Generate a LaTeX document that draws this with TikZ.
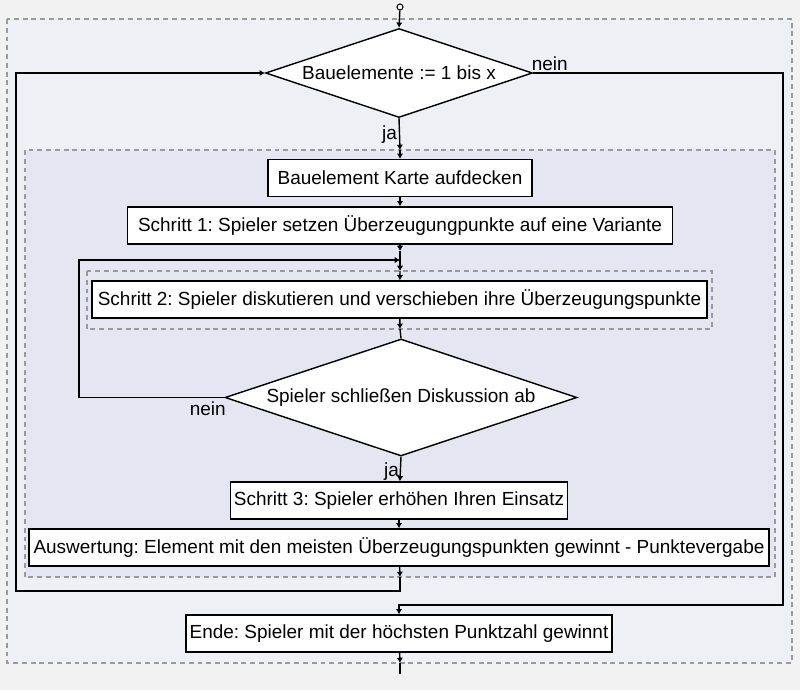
\documentclass[tikz,border=0pt]{standalone}
\usepackage{fontspec}
\setmainfont{Liberation Sans}
\usetikzlibrary{shapes.geometric,arrows.meta}
\definecolor{pagegray}{HTML}{F2F2F2}
\definecolor{outerfill}{HTML}{EFEFF6}
\definecolor{innerfill}{HTML}{E6E6F2}
\definecolor{dashgray}{HTML}{9A9A9A}
\frenchspacing
\tikzset{
    stepbox/.style = {
        draw,
        fill=white,
        line width=0.8pt,
        minimum height=0.74cm,
        inner sep=2pt,
        font=\fontsize{10.8}{13}\selectfont
    },
    decision/.style = {
        draw,
        diamond,
        fill=white,
        line width=0.8pt,
        inner sep=0pt,
        aspect=3,
        font=\fontsize{10.8}{13}\selectfont
    },
    flow/.style = {
        line width=0.8pt,
        -{Latex[length=3pt,width=3.6pt]}
    },
    plain/.style = {
        line width=0.8pt
    },
    group/.style = {
        draw=dashgray,
        line width=0.6pt,
        dash pattern=on 2.8pt off 2.2pt
    },
    answer/.style = {
        inner sep=1pt,
        font=\fontsize{10.8}{13}\selectfont
    }
}

\begin{document}
\begin{tikzpicture}[x=0.02cm, y=-0.02cm]
    % canvas and groups
    \fill[pagegray] (0,0) rectangle (800,690);
    \useasboundingbox (0,0) rectangle (800,690);
    \draw[group, fill=outerfill] (7,19) rectangle (792,663);
    \draw[group, fill=innerfill] (25,150) rectangle (775,577);
    \draw[group, fill=innerfill] (87,271) rectangle (712,329);

    % steps
    \node[draw, circle, fill=white, minimum size=0.12cm, inner sep=0pt, line width=0.6pt] (start) at (400,7) {};
    \node[decision, minimum width=5.34cm, minimum height=1.78cm] (loop) at (399,73) {Bauelemente := 1 bis x};
    \node[stepbox, minimum width=5.28cm] (karte) at (400,178) {Bauelement Karte aufdecken};
    \node[stepbox, minimum width=10.9cm] (schritt1) at (400,225.5) {Schritt 1: Spieler setzen Überzeugungpunkte auf eine Variante};
    \node[stepbox, minimum width=12.3cm] (schritt2) at (399.5,299.5) {Schritt 2: Spieler diskutieren und verschieben ihre Überzeugungspunkte};
    \node[decision, minimum width=7.04cm, minimum height=2.34cm] (check) at (401,397.5) {Spieler schließen Diskussion ab};
    \node[stepbox, minimum width=6.72cm] (schritt3) at (399,500.5) {Schritt 3: Spieler erhöhen Ihren Einsatz};
    \node[stepbox, minimum width=14.8cm] (auswertung) at (399,547.5) {Auswertung: Element mit den meisten Überzeugungspunkten gewinnt - Punktevergabe};
    \node[stepbox, minimum width=8.52cm] (ende) at (399,633.5) {Ende: Spieler mit der höchsten Punktzahl gewinnt};

    % junctions
    \coordinate (innerIn) at (400,150);
    \coordinate (j0) at (400,251);
    \coordinate (j1) at (400,260);
    \coordinate (groupIn) at (400,271);
    \coordinate (groupOut) at (400,329);
    \coordinate (backL) at (79,260);
    \coordinate (innerOut) at (400,577);
    \coordinate (cornerBL) at (16,591);
    \coordinate (cornerR) at (783,605);
    \coordinate (outerOut) at (400,663);
    \coordinate (exit) at (400,674);

    % connectors
    \draw[flow] (start) -- (loop.north);
    \draw[flow] (loop.south) -- (innerIn);
    \draw[flow] (innerIn) -- (karte);
    \draw[flow] (karte) -- (schritt1);
    \draw[flow] (schritt1) -- (j0);
    \draw[plain] (j0) -- (j1);
    \draw[flow] (j1) -- (groupIn);
    \draw[flow] (groupIn) -- (schritt2);
    \draw[flow] (schritt2) -- (groupOut);
    \draw[plain] (groupOut) -- (check.north);
    \draw[flow] (check.west) -| (backL) -- (j1);
    \draw[flow] (check.south) -- (schritt3);
    \draw[flow] (schritt3) -- (auswertung);
    \draw[flow] (auswertung) -- (innerOut);
    \draw[flow] (innerOut) |- (cornerBL) |- (loop.west);
    \draw[flow] (loop.east) -| (cornerR) -| (ende.north);
    \draw[flow] (ende) -- (outerOut);
    \draw[plain] (outerOut) -- (exit);

    % answers
    \node[answer, anchor=south west] (neinA) at ([xshift=-2pt]loop.east) {nein};
    \node[answer, anchor=north east] (jaA) at ([yshift=-3pt]loop.south) {ja};
    \node[answer, anchor=north east] (neinB) at ([xshift=2pt,yshift=-1pt]check.west) {nein};
    \node[answer, anchor=north east] (jaB) at ([yshift=-2pt]check.south) {ja};
\end{tikzpicture}
\end{document}
